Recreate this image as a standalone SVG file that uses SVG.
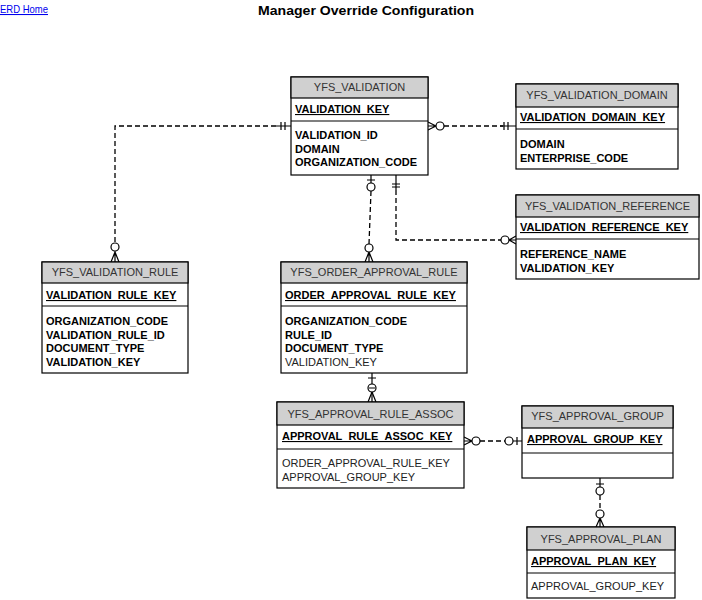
<svg xmlns="http://www.w3.org/2000/svg" width="702" height="600" viewBox="0 0 702 600">
<style>
.box{fill:#ffffff;stroke:#000;stroke-width:1.2}
.hdr{fill:#d0d0d0;stroke:#000;stroke-width:1.2}
.sep{stroke:#000;stroke-width:1.2}
text{font-family:"Liberation Sans",Arial,sans-serif;font-size:11px}
.ht{fill:#333;text-anchor:middle}
.kt{font-weight:bold;text-decoration:underline;fill:#000}
.ab{font-weight:bold;fill:#000}
.an{fill:#222}
.ln{fill:none;stroke:#000;stroke-width:1.3;stroke-dasharray:5,3}
.sl{fill:none;stroke:#000;stroke-width:1.2}
.ci{fill:#fff;stroke:#000;stroke-width:1.2}
</style>
<rect width="702" height="600" fill="#fff"/>
<text x="0" y="13" fill="#0000ee" text-decoration="underline" textLength="48" lengthAdjust="spacingAndGlyphs" style="font-size:10.5px">ERD Home</text>
<text x="366" y="15" text-anchor="middle" font-weight="bold" textLength="216" lengthAdjust="spacingAndGlyphs" style="font-size:13.5px">Manager Override Configuration</text>

<g id="connectors">
  <!-- VALIDATION -> VALIDATION_RULE -->
  <path class="ln" d="M276,126 H115 V243"/>
  <path class="sl" d="M291,126 H276 M281,122 V130 M285,122 V130"/>
  <circle class="ci" cx="115" cy="247" r="4"/>
  <path class="sl" d="M115,251 V262 M115,252 L111,262 M115,252 L119,262"/>
  <!-- VALIDATION -> DOMAIN -->
  <path class="ln" d="M444,126 H503"/>
  <path class="sl" d="M428,126 H436 M436,126 L428,122 M436,126 L428,130 M500,126 H516 M504,122 V130 M508,122 V130"/>
  <circle class="ci" cx="440" cy="126" r="4"/>
  <!-- VALIDATION -> ORDER_APPROVAL_RULE -->
  <path class="sl" d="M371,175 V183 M367,180 H375"/>
  <circle class="ci" cx="371" cy="187" r="4"/>
  <path class="ln" d="M371,191 L369,244"/>
  <circle class="ci" cx="369" cy="248" r="4"/>
  <path class="sl" d="M369,252 V262 M369,252 L365,262 M369,252 L373,262"/>
  <!-- VALIDATION -> REFERENCE -->
  <path class="sl" d="M396,175 V190 M392,184 H400 M392,187 H400"/>
  <path class="ln" d="M396,190 V240 H501"/>
  <circle class="ci" cx="505" cy="240" r="4"/>
  <path class="sl" d="M509,240 H516 M509,240 L516,236 M509,240 L516,244"/>
  <!-- ORDER_APPROVAL_RULE -> ASSOC -->
  <path class="sl" d="M372,373 V402 M368,378 H376"/>
  <circle class="ci" cx="372" cy="388" r="4"/>
  <path class="sl" d="M369,388 H375 M372,392 L368,402 M372,392 L376,402"/>
  <!-- ASSOC -> GROUP -->
  <path class="sl" d="M464,441 H472 M472,441 L464,437 M472,441 L464,445"/>
  <circle class="ci" cx="476" cy="441" r="4"/>
  <path class="ln" d="M480,441 H505"/>
  <circle class="ci" cx="509" cy="441" r="4"/>
  <path class="sl" d="M513,441 H522 M517,437 V445"/>
  <!-- GROUP -> PLAN -->
  <path class="sl" d="M600,478 V487 M596,484 H604"/>
  <circle class="ci" cx="600" cy="491" r="4"/>
  <path class="ln" d="M600,495 V510"/>
  <circle class="ci" cx="600" cy="514" r="4"/>
  <path class="sl" d="M600,518 V527 M600,518 L596,527 M600,518 L604,527"/>
</g>

<g id="YFS_VALIDATION">
  <rect class="box" x="291" y="77" width="137" height="98"/>
  <rect class="hdr" x="291" y="77" width="137" height="21"/>
  <line class="sep" x1="291" y1="121" x2="428" y2="121"/>
  <text class="ht" x="359.5" y="91">YFS_VALIDATION</text>
  <text class="kt" x="295" y="113">VALIDATION_KEY</text>
  <text class="ab" x="295" y="139">VALIDATION_ID</text>
  <text class="ab" x="295" y="152.5">DOMAIN</text>
  <text class="ab" x="295" y="166">ORGANIZATION_CODE</text>
</g>

<g id="YFS_VALIDATION_DOMAIN">
  <rect class="box" x="516" y="84" width="162" height="85"/>
  <rect class="hdr" x="516" y="84" width="162" height="23"/>
  <line class="sep" x1="516" y1="129" x2="678" y2="129"/>
  <text class="ht" x="597" y="99">YFS_VALIDATION_DOMAIN</text>
  <text class="kt" x="520" y="121">VALIDATION_DOMAIN_KEY</text>
  <text class="ab" x="520" y="148">DOMAIN</text>
  <text class="ab" x="520" y="161.5">ENTERPRISE_CODE</text>
</g>

<g id="YFS_VALIDATION_REFERENCE">
  <rect class="box" x="516" y="195" width="183" height="84"/>
  <rect class="hdr" x="516" y="195" width="183" height="22"/>
  <line class="sep" x1="516" y1="239" x2="699" y2="239"/>
  <text class="ht" x="607.5" y="209.5">YFS_VALIDATION_REFERENCE</text>
  <text class="kt" x="520" y="231">VALIDATION_REFERENCE_KEY</text>
  <text class="ab" x="520" y="258">REFERENCE_NAME</text>
  <text class="ab" x="520" y="271.5">VALIDATION_KEY</text>
</g>

<g id="YFS_VALIDATION_RULE">
  <rect class="box" x="42" y="262" width="146" height="111"/>
  <rect class="hdr" x="42" y="262" width="146" height="21"/>
  <line class="sep" x1="42" y1="306" x2="188" y2="306"/>
  <text class="ht" x="115" y="276">YFS_VALIDATION_RULE</text>
  <text class="kt" x="46" y="299">VALIDATION_RULE_KEY</text>
  <text class="ab" x="46" y="325">ORGANIZATION_CODE</text>
  <text class="ab" x="46" y="338.5">VALIDATION_RULE_ID</text>
  <text class="ab" x="46" y="352">DOCUMENT_TYPE</text>
  <text class="ab" x="46" y="365.5">VALIDATION_KEY</text>
</g>

<g id="YFS_ORDER_APPROVAL_RULE">
  <rect class="box" x="281" y="262" width="186" height="111"/>
  <rect class="hdr" x="281" y="262" width="186" height="21"/>
  <line class="sep" x1="281" y1="306" x2="467" y2="306"/>
  <text class="ht" x="374" y="276">YFS_ORDER_APPROVAL_RULE</text>
  <text class="kt" x="285" y="299">ORDER_APPROVAL_RULE_KEY</text>
  <text class="ab" x="285" y="325">ORGANIZATION_CODE</text>
  <text class="ab" x="285" y="338.5">RULE_ID</text>
  <text class="ab" x="285" y="352">DOCUMENT_TYPE</text>
  <text class="an" x="285" y="365.5">VALIDATION_KEY</text>
</g>

<g id="YFS_APPROVAL_RULE_ASSOC">
  <rect class="box" x="277" y="402" width="187" height="86"/>
  <rect class="hdr" x="277" y="402" width="187" height="23"/>
  <line class="sep" x1="277" y1="449" x2="464" y2="449"/>
  <text class="ht" x="370.5" y="418">YFS_APPROVAL_RULE_ASSOC</text>
  <text class="kt" x="282" y="440">APPROVAL_RULE_ASSOC_KEY</text>
  <text class="an" x="282" y="467">ORDER_APPROVAL_RULE_KEY</text>
  <text class="an" x="282" y="480.5">APPROVAL_GROUP_KEY</text>
</g>

<g id="YFS_APPROVAL_GROUP">
  <rect class="box" x="522" y="406" width="151" height="72"/>
  <rect class="hdr" x="522" y="406" width="151" height="22"/>
  <line class="sep" x1="522" y1="453" x2="673" y2="453"/>
  <text class="ht" x="597.5" y="420">YFS_APPROVAL_GROUP</text>
  <text class="kt" x="527" y="443">APPROVAL_GROUP_KEY</text>
</g>

<g id="YFS_APPROVAL_PLAN">
  <rect class="box" x="527" y="527" width="148" height="71"/>
  <rect class="hdr" x="527" y="527" width="148" height="23"/>
  <line class="sep" x1="527" y1="573" x2="675" y2="573"/>
  <text class="ht" x="601" y="542.5">YFS_APPROVAL_PLAN</text>
  <text class="kt" x="531" y="565">APPROVAL_PLAN_KEY</text>
  <text class="an" x="531" y="590">APPROVAL_GROUP_KEY</text>
</g>
</svg>
